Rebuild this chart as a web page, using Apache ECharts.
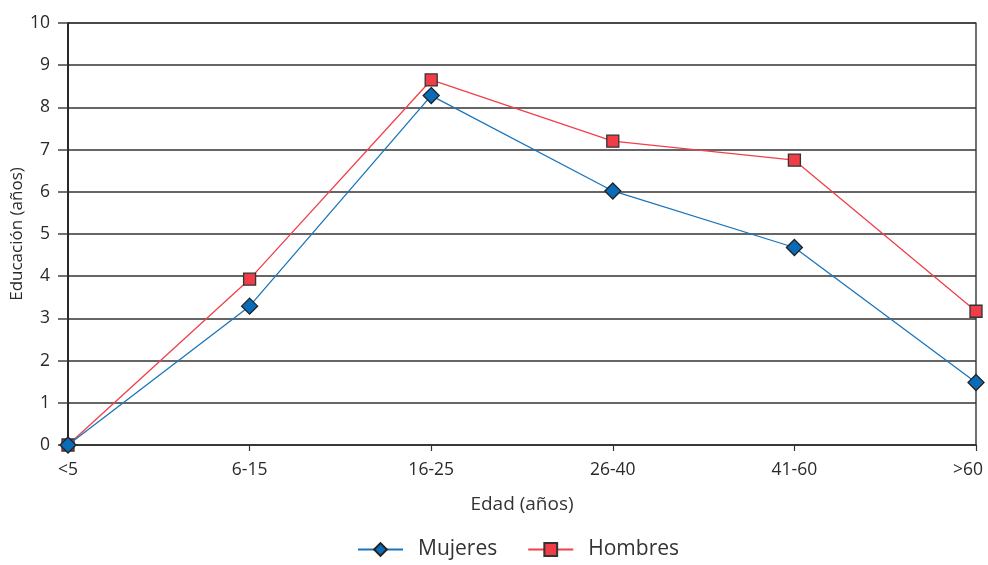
<!DOCTYPE html>
<html>
<head>
<meta charset="utf-8">
<script src="https://cdn.jsdelivr.net/npm/echarts@6/dist/echarts.min.js"></script>
<style>html,body{margin:0;padding:0;background:#fff;}#c{width:988px;height:565px;}</style>
</head>
<body>
<div id="c"></div>
<script>
const categories = ['<5', '6-15', '16-25', '26-40', '41-60', '>60'];
const mujeres = [0, 3.29, 8.28, 6.02, 4.68, 1.48];
const hombres = [0, 3.93, 8.65, 7.2, 6.75, 3.17];
const yTicks = [0, 1, 2, 3, 4, 5, 6, 7, 8, 9, 10];

const FONT = '"Open Sans", "Noto Sans", sans-serif';
const chart = echarts.init(document.getElementById('c'), null, {renderer: 'canvas'});
chart.setOption({
  animation: false,
  backgroundColor: '#ffffff',
  textStyle: {fontFamily: FONT},
  grid: {left: 68, right: 12, top: 23, bottom: 120, show: true, borderColor: '#111', borderWidth: 1.2,
    containLabel: false, outerBoundsMode: 'none'},
  legend: {
    bottom: 0, left: 352,
    itemWidth: 45, itemHeight: 16, itemGap: 30,
    textStyle: {fontSize: 21, color: '#333', fontFamily: FONT, padding: [0, 0, 0, 10]},
    data: ['Mujeres', 'Hombres']
  },
  xAxis: {
    type: 'category', data: categories, boundaryGap: false,
    name: 'Edad (años)', nameLocation: 'middle', nameGap: 50,
    nameTextStyle: {fontSize: 19, color: '#333', fontFamily: FONT},
    axisLine: {show: true, lineStyle: {color: '#333', width: 1.5}},
    axisTick: {show: true, length: 6, lineStyle: {color: '#333', width: 1.2}},
    axisLabel: {fontSize: 17.5, color: '#2a2a2a', margin: 16, fontFamily: FONT,
      formatter: (v, i) => i === categories.length - 1 ? '{last|' + v + '}' : v,
      rich: {last: {fontSize: 17.5, color: '#2a2a2a', fontFamily: FONT, padding: [0, 16, 0, 0]}}},
    splitLine: {show: false}
  },
  yAxis: {
    type: 'value', min: 0, max: 10, interval: 1,
    name: 'Educación (años)', nameLocation: 'middle', nameGap: 42, nameMoveOverlap: false,
    nameTextStyle: {fontSize: 17, color: '#2a2a2a', fontFamily: FONT},
    axisLine: {show: true, lineStyle: {color: '#111', width: 1.5}},
    axisTick: {show: true, length: 10, lineStyle: {color: '#444', width: 1.5}},
    axisLabel: {fontSize: 17.5, color: '#2a2a2a', margin: 18, fontFamily: FONT,
      formatter: v => yTicks.includes(v) ? String(v) : ''},
    splitLine: {show: true, lineStyle: {color: '#333', width: 1.5}}
  },
  series: [
    {
      name: 'Mujeres', type: 'line', data: mujeres,
      symbol: 'diamond', symbolSize: 16,
      lineStyle: {color: '#1a75bc', width: 1.3},
      itemStyle: {color: '#0a6cb8', borderColor: '#222', borderWidth: 1.3},
      z: 3
    },
    {
      name: 'Hombres', type: 'line', data: hombres,
      symbol: 'rect', symbolSize: 12,
      lineStyle: {color: '#f0404a', width: 1.3},
      itemStyle: {color: '#ef3e48', borderColor: '#333', borderWidth: 1.3},
      z: 2
    }
  ]
});
</script>
</body>
</html>
